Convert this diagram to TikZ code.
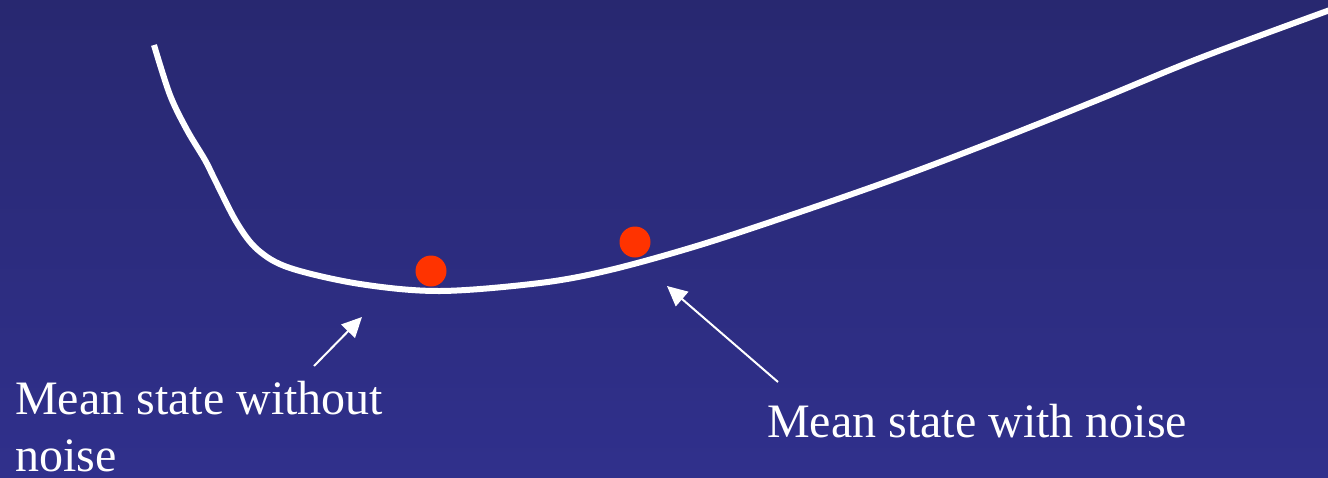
\documentclass[tikz,border=0pt]{standalone}
\usepackage{fontspec}
\setmainfont{Liberation Serif}
\usepackage{xcolor}
\usetikzlibrary{arrows.meta,positioning}
\definecolor{slidetop}{RGB}{40,40,112}
\definecolor{slidebottom}{RGB}{48,48,140}
\definecolor{dotred}{RGB}{255,51,0}

\begin{document}
\begin{tikzpicture}[x=1pt,y=-1pt,>={Triangle[length=20pt,width=19pt]}]
  \tikzstyle{label}=[text=white,font=\fontsize{48}{57}\selectfont,inner sep=0pt,align=left]
  \tikzstyle{curve}=[white,line width=6pt]
  \tikzstyle{pointer}=[->,white,line width=2pt]
  \tikzstyle{state}=[circle,fill=dotred,minimum size=31pt,inner sep=0pt]
  % background
  \shade[top color=slidetop,bottom color=slidebottom] (0,0) rectangle (1328,477);
  \useasboundingbox (0,0) rectangle (1328,477);
  % potential curve
  \draw[curve] plot[smooth,tension=0.55] coordinates {(154,45) (170,95) (187,130) (205,160)
    (215,180) (237,223) (258,250) (290,268) (360,284) (440,291) (540,283)
    (610,270) (700,245) (800,212) (900,177) (1000,139) (1100,99) (1200,58) (1330,10)};
  % mean states
  \node[state] (nonoise) at (431,271) {};
  \node[state] (noise) at (635,242) {};
  % labels
  \node[label,anchor=base west] (lblno) at (15,471) {Mean state without\\noise};
  \node[label,anchor=base west] (lblyes) at (767,437) {Mean state with noise};
  \coordinate (tailno) at (314,366);
  \coordinate (tipno) at (362,317);
  \coordinate (tailyes) at (778,382);
  \coordinate (tipyes) at (667,286);
  \draw[pointer] (tailno) -- (tipno);
  \draw[pointer] (tailyes) -- (tipyes);
\end{tikzpicture}
\end{document}
